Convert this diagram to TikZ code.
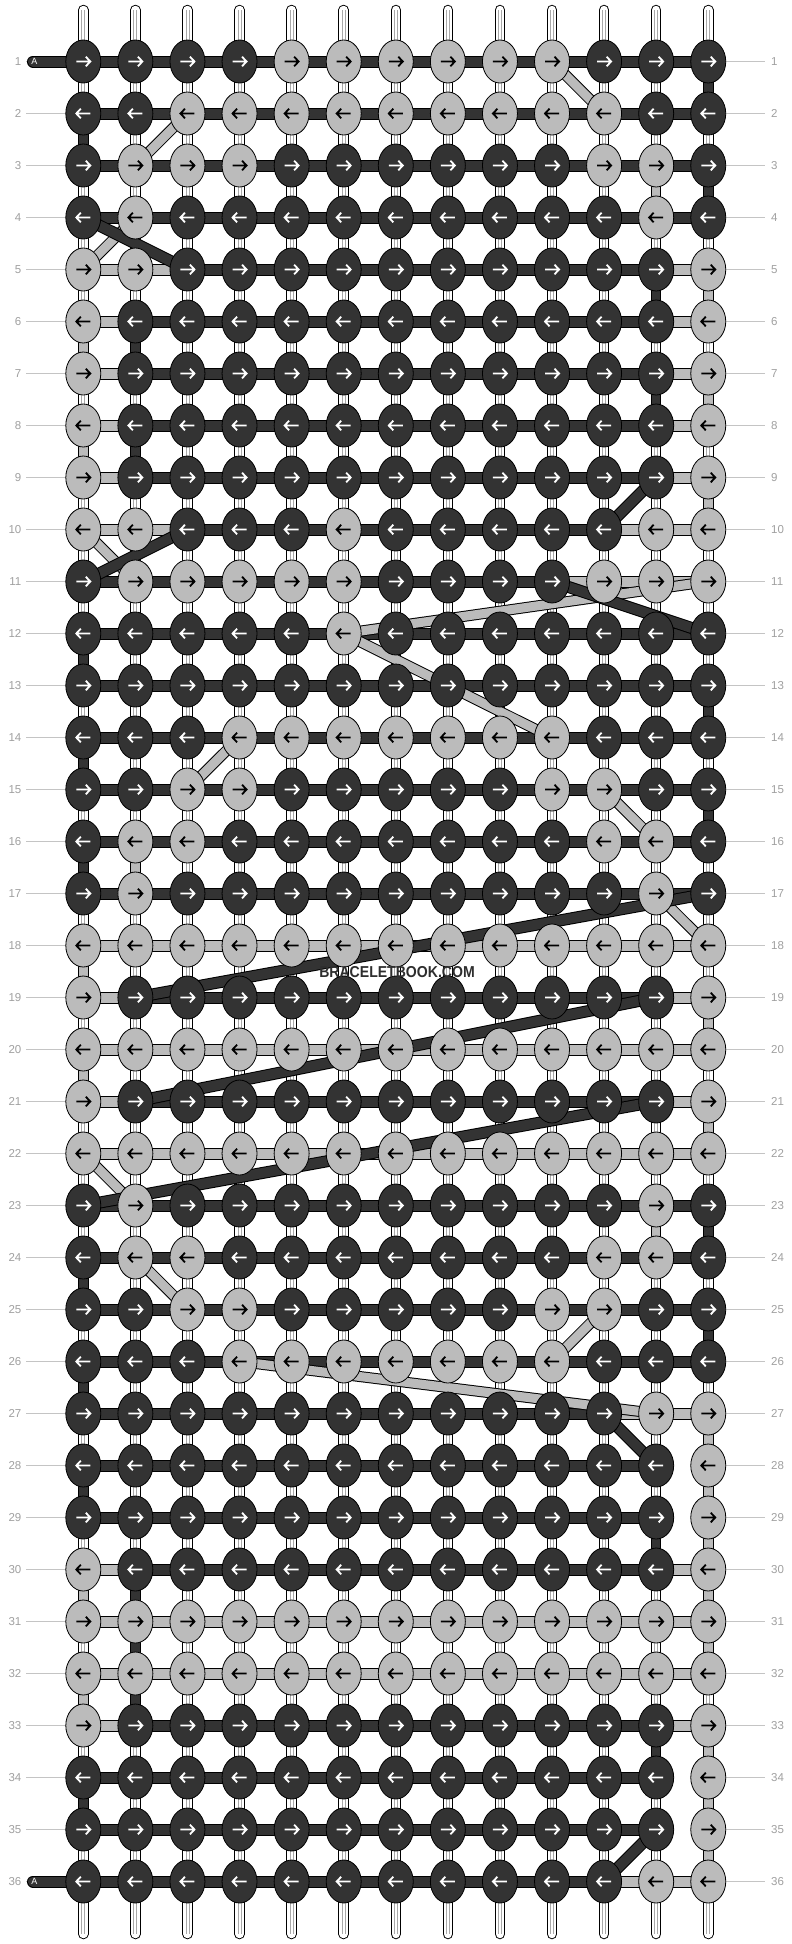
\documentclass[tikz,border=0pt]{standalone}
\usepackage{fontspec}
\setmainfont{Liberation Sans}
\usetikzlibrary{shapes.geometric}
\definecolor{cD}{HTML}{333333}
\definecolor{cL}{HTML}{BBBBBB}
\definecolor{cd}{HTML}{333333}
\definecolor{cl}{HTML}{BBBBBB}
\definecolor{aD}{HTML}{FFFFFF}
\definecolor{aL}{HTML}{000000}
\definecolor{lblc}{HTML}{A0A0A0}
\definecolor{lnc}{HTML}{C4C4C4}
\definecolor{wgray}{HTML}{A8A8A8}
\definecolor{wmc}{HTML}{2E2E2E}
\begin{document}
\begin{tikzpicture}[x=1bp,y=-1bp,
 hseg/.style={line width=1bp, double distance=10bp, draw=black},
 dseg/.style={line width=1bp, double distance=9bp, draw=black},
 vseg/.style={line width=1bp, double distance=8.5bp, draw=black},
 knotnode/.style={ellipse, draw=black, line width=0.8bp, minimum width=35bp, minimum height=43bp, inner sep=0pt},
 arr/.style={line width=1.8bp, line join=miter},
 lbl/.style={text=lblc, font=\fontsize{11.5bp}{13bp}\selectfont, inner sep=0pt},
 lblline/.style={draw=lnc, line width=1bp}]
\fill[white] (0,0) rectangle (792,1944);
\useasboundingbox (0,0) rectangle (792,1944);
% grid coordinates
\foreach \r in {1,...,36}{\foreach \c in {1,...,13}{
  \coordinate (p\r-\c) at ({83.3+52.08*(\c-1)},{61.5+52*(\r-1)});}}
% warp strings
\foreach \c in {1,...,13}{
  \coordinate (wt\c) at ({83.3+52.08*(\c-1)},10);
  \coordinate (wb\c) at ({83.3+52.08*(\c-1)},1934);
  \draw[line width=1bp, double=white, double distance=8.5bp, draw=black, line cap=round] (wt\c) -- (wb\c);
  \draw[wgray, line width=0.8bp] ([xshift=-1.5bp]wt\c) -- ([xshift=-1.5bp]wb\c);
  \draw[wgray, line width=0.8bp] ([xshift=1.5bp]wt\c) -- ([xshift=1.5bp]wb\c);
}
% row labels and guide lines
\foreach \r in {1,...,36}{
  \coordinate (ll\r) at (26,{61.5+52*(\r-1)});
  \coordinate (rl\r) at (765,{61.5+52*(\r-1)});
  \draw[lblline] (ll\r) -- (p\r-1);
  \draw[lblline] (p\r-13) -- (rl\r);
  \node[lbl, anchor=east] (nl\r) at (21.5,{61.5+52*(\r-1)}) {\r};
  \node[lbl, anchor=west] (nr\r) at (771,{61.5+52*(\r-1)}) {\r};
}
% vertical thread segments
\foreach \r/\c/\s in {1/13/d, 2/1/d, 3/12/l, 3/13/d, 5/12/d, 5/13/l, 6/1/l, 6/2/d, 7/12/d, 7/13/l, 8/1/l, 8/2/d, 9/13/l, 12/1/d, 13/13/d, 14/1/d, 15/13/d, 16/1/d, 16/2/l, 18/1/l, 19/13/l, 20/1/l, 21/13/l, 23/12/l, 23/13/d, 24/1/d, 25/13/d, 26/1/d, 27/13/l, 28/1/d, 28/13/l, 29/12/d, 29/13/l, 30/1/l, 30/2/d, 30/13/l, 31/2/d, 31/13/l, 32/1/l, 32/2/d, 33/12/d, 33/13/l, 34/1/d, 34/13/l, 35/13/l}{
  \pgfmathtruncatemacro\rr{\r+1}
  \draw[vseg, double=c\s] (p\r-\c) -- (p\rr-\c);
}
% horizontal thread segments
\foreach \r/\segs in {
 1/{d,d,d,d,d,d,d,d,d,d,d,d}, 2/{d,d,d,d,d,d,d,d,d,d,d,d},
 3/{d,d,d,d,d,d,d,d,d,d,d,d}, 4/{d,d,d,d,d,d,d,d,d,d,d,d},
 5/{l,l,d,d,d,d,d,d,d,d,d,l}, 6/{l,d,d,d,d,d,d,d,d,d,d,l},
 7/{l,d,d,d,d,d,d,d,d,d,d,l}, 8/{l,d,d,d,d,d,d,d,d,d,d,l},
 9/{l,d,d,d,d,d,d,d,d,d,d,l}, 10/{l,l,d,d,d,d,d,d,d,d,l,l},
 11/{d,d,d,d,d,d,d,d,d,l,l,l}, 12/{d,d,d,d,d,d,d,d,d,d,d,d},
 13/{d,d,d,d,d,d,d,d,d,d,d,d}, 14/{d,d,d,d,d,d,d,d,d,d,d,d},
 15/{d,d,d,d,d,d,d,d,d,d,d,d}, 16/{d,d,d,d,d,d,d,d,d,d,d,d},
 17/{d,d,d,d,d,d,d,d,d,d,d,d}, 18/{l,l,l,l,l,l,l,l,l,l,l,l},
 19/{l,d,d,d,d,d,d,d,d,d,d,l}, 20/{l,l,l,l,l,l,l,l,l,l,l,l},
 21/{l,d,d,d,d,d,d,d,d,d,d,l}, 22/{l,l,l,l,l,l,l,l,l,l,l,l},
 23/{d,d,d,d,d,d,d,d,d,d,d,d}, 24/{d,d,d,d,d,d,d,d,d,d,d,d},
 25/{d,d,d,d,d,d,d,d,d,d,d,d}, 26/{d,d,d,d,d,d,d,d,d,d,d,d},
 27/{d,d,d,d,d,d,d,d,d,d,l,l}, 28/{d,d,d,d,d,d,d,d,d,d,d,n},
 29/{d,d,d,d,d,d,d,d,d,d,d,n}, 30/{l,d,d,d,d,d,d,d,d,d,d,l},
 31/{l,l,l,l,l,l,l,l,l,l,l,l}, 32/{l,l,l,l,l,l,l,l,l,l,l,l},
 33/{l,d,d,d,d,d,d,d,d,d,d,l}, 34/{d,d,d,d,d,d,d,d,d,d,d,n},
 35/{d,d,d,d,d,d,d,d,d,d,d,n}, 36/{d,d,d,d,d,d,d,d,d,d,l,l}}{
  \foreach \s [count=\i] in \segs {
    \if n\s\else
      \pgfmathtruncatemacro\j{\i+1}
      \draw[hseg, double=c\s] (p\r-\i) -- (p\r-\j);
    \fi
  }
}
% start tabs
\foreach \r in {1,36}{
  \coordinate (ta\r) at (33,{61.5+52*(\r-1)});
  \draw[hseg, double=cd, line cap=round] (ta\r) -- (p\r-1);
  \node[text=white, inner sep=0pt, font=\fontsize{9bp}{9bp}\selectfont] (tA\r) at (34.5,{61.5+52*(\r-1)}) {A};
}
% diagonal thread moves: light first, then dark
\foreach \ra/\ca/\rb/\cb in {1/10/2/11, 2/3/3/2, 4/2/5/1, 10/1/11/2, 11/13/12/6, 12/6/14/10, 14/4/15/3, 15/11/16/12, 17/12/18/13, 22/1/23/2, 24/2/25/3, 25/11/26/10, 26/4/27/12}{
  \draw[dseg, double=cl] (p\ra-\ca) -- (p\rb-\cb);
}
\foreach \ra/\ca/\rb/\cb in {4/1/5/3, 9/12/10/11, 10/3/11/1, 11/10/12/13, 17/13/19/2, 19/12/21/2, 21/12/23/1, 27/11/28/12, 35/12/36/11}{
  \draw[hseg, double=cd] (p\ra-\ca) -- (p\rb-\cb);
}
% knots
\foreach \r/\ks in {
 1/{D,D,D,D,L,L,L,L,L,L,D,D,D}, 2/{D,D,L,L,L,L,L,L,L,L,L,D,D},
 3/{D,L,L,L,D,D,D,D,D,D,L,L,D}, 4/{D,L,D,D,D,D,D,D,D,D,D,L,D},
 5/{L,L,D,D,D,D,D,D,D,D,D,D,L}, 6/{L,D,D,D,D,D,D,D,D,D,D,D,L},
 7/{L,D,D,D,D,D,D,D,D,D,D,D,L}, 8/{L,D,D,D,D,D,D,D,D,D,D,D,L},
 9/{L,D,D,D,D,D,D,D,D,D,D,D,L}, 10/{L,L,D,D,D,L,D,D,D,D,D,L,L},
 11/{D,L,L,L,L,L,D,D,D,D,L,L,L}, 12/{D,D,D,D,D,L,D,D,D,D,D,D,D},
 13/{D,D,D,D,D,D,D,D,D,D,D,D,D}, 14/{D,D,D,L,L,L,L,L,L,L,D,D,D},
 15/{D,D,L,L,D,D,D,D,D,L,L,D,D}, 16/{D,L,L,D,D,D,D,D,D,D,L,L,D},
 17/{D,L,D,D,D,D,D,D,D,D,D,L,D}, 18/{L,L,L,L,L,L,L,L,L,L,L,L,L},
 19/{L,D,D,D,D,D,D,D,D,D,D,D,L}, 20/{L,L,L,L,L,L,L,L,L,L,L,L,L},
 21/{L,D,D,D,D,D,D,D,D,D,D,D,L}, 22/{L,L,L,L,L,L,L,L,L,L,L,L,L},
 23/{D,L,D,D,D,D,D,D,D,D,D,L,D}, 24/{D,L,L,D,D,D,D,D,D,D,L,L,D},
 25/{D,D,L,L,D,D,D,D,D,L,L,D,D}, 26/{D,D,D,L,L,L,L,L,L,L,D,D,D},
 27/{D,D,D,D,D,D,D,D,D,D,D,L,L}, 28/{D,D,D,D,D,D,D,D,D,D,D,D,L},
 29/{D,D,D,D,D,D,D,D,D,D,D,D,L}, 30/{L,D,D,D,D,D,D,D,D,D,D,D,L},
 31/{L,L,L,L,L,L,L,L,L,L,L,L,L}, 32/{L,L,L,L,L,L,L,L,L,L,L,L,L},
 33/{L,D,D,D,D,D,D,D,D,D,D,D,L}, 34/{D,D,D,D,D,D,D,D,D,D,D,D,L},
 35/{D,D,D,D,D,D,D,D,D,D,D,D,L}, 36/{D,D,D,D,D,D,D,D,D,D,D,L,L}}{
  \ifodd\r \def\dir{1}\else\def\dir{-1}\fi
  \foreach \k [count=\c] in \ks {
    \node[knotnode, fill=c\k] (k\r-\c) at (p\r-\c) {};
    \draw[arr, draw=a\k] (k\r-\c.center) ++({-7*\dir},0) -- ++({13.5*\dir},0)
      ++({-4*\dir},-4.8) -- ++({4.5*\dir},4.8) -- ++({-4.5*\dir},4.8);
  }
}
% watermark
\node[text=wmc, inner sep=0pt, font=\bfseries\fontsize{15.8bp}{16bp}\selectfont] (wm) at (397,972) {\scalebox{0.89}[1]{BRACELETBOOK.COM}};
\end{tikzpicture}
\end{document}
